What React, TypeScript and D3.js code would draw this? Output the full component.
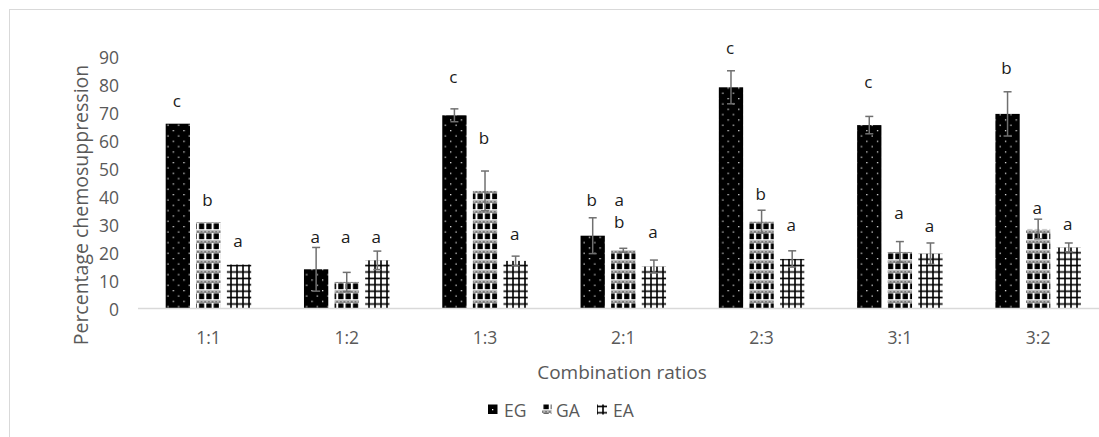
import React from "react";
import * as d3 from "d3";

const categories = ["1:1", "1:2", "1:3", "2:1", "2:3", "3:1", "3:2"];
const seriesNames = ["EG", "GA", "EA"];
const egValues = [66, 14, 69, 26, 79, 65.5, 69.5];
const gaValues = [30.8, 9.5, 42, 20.8, 31, 20.2, 28.4];
const eaValues = [15.7, 17.2, 17, 15, 17.7, 19.6, 21.8];
const egErrors = [0, 7.8, 2.3, 6.4, 5.9, 3.1, 7.9];
const gaErrors = [0, 3.4, 7.1, 0.7, 4.1, 3.7, 3.5];
const eaErrors = [0, 3.3, 1.7, 2.3, 2.9, 3.8, 1.6];
const egLetters = ["c", "a", "c", "b", "c", "c", "b"];
const gaLetters = ["b", "a", "b", "a b", "b", "a", "a"];
const eaLetters = ["a", "a", "a", "a", "a", "a", "a"];
const egLetterPos = [74.4, 25.7, 82.7, 39.1, 93.3, 81.2, 85.9];
const gaLetterPos = [39.1, 25.7, 61.1, 39.1, 41.2, 34.3, 36.2];
const eaLetterPos = [24.3, 25.7, 26.7, 27.6, 29.9, 29.5, 30.5];
const yTicks = [0, 10, 20, 30, 40, 50, 60, 70, 80, 90];
const yTitle = "Percentage chemosuppression";
const xTitle = "Combination ratios";

const FONT = "'Open Sans', 'Noto Sans', sans-serif";
const GRAY = "#595959";

export default function App() {
  const W = 1099;
  const H = 437;
  const x0 = d3.scaleBand<string>().domain(categories).range([139.3, 1107.3]).paddingInner(0).paddingOuter(0);
  const x1 = d3.scaleBand<string>().domain(seriesNames).range([-42.75, 42.75]).paddingInner(0.206).paddingOuter(0);
  const y = d3.scaleLinear().domain([0, 90]).range([308.5, 56.5]);

  const series = [
    { name: "EG", values: egValues, errors: egErrors, letters: egLetters, pos: egLetterPos, fill: "url(#pEG)" },
    { name: "GA", values: gaValues, errors: gaErrors, letters: gaLetters, pos: gaLetterPos, fill: "url(#pGA)" },
    { name: "EA", values: eaValues, errors: eaErrors, letters: eaLetters, pos: eaLetterPos, fill: "url(#pEA)" },
  ];

  const bw = x1.bandwidth();

  return (
    <svg width={W} height={H} style={{ position: "absolute", left: 0, top: 0, background: "#fff" }}>
      <defs>
        <pattern id="pEG" patternUnits="userSpaceOnUse" width={10.67} height={10.67}>
          <rect width={10.67} height={10.67} fill="#000" />
          <rect x={2} y={2} width={1.2} height={1.2} fill="#fff" />
          <rect x={7.33} y={7.33} width={1.2} height={1.2} fill="#fff" />
        </pattern>
        <pattern id="pGA" patternUnits="userSpaceOnUse" width={7.33} height={10}>
          <rect width={7.33} height={10} fill="#fff" />
          <rect x={0} y={0.5} width={7.33} height={2.4} fill="#7a7a7a" />
          <rect x={1.2} y={1.1} width={1.2} height={1.2} fill="#e0e0e0" />
          <rect x={4.8} y={1.1} width={1.2} height={1.2} fill="#e0e0e0" />
          <rect x={1.1} y={3.4} width={5.2} height={5.8} fill="#000" />
        </pattern>
        <pattern id="pEA" patternUnits="userSpaceOnUse" width={6} height={6.4}>
          <rect width={6} height={6.4} fill="#fff" />
          <rect x={2.2} y={0} width={1.6} height={6.4} fill="#000" />
          <rect x={0} y={2.4} width={6} height={1.6} fill="#000" />
        </pattern>
      </defs>

      <rect x={9.5} y={9.5} width={1100} height={440} fill="none" stroke="#d9d9d9" strokeWidth={1} />

      {yTicks.map((t) => (
        <text key={t} x={119} y={y(t)} textAnchor="end" dominantBaseline="central" fontFamily={FONT} fontSize={17.5} fill={GRAY}>
          {t}
        </text>
      ))}

      <text
        transform={`translate(80,${205}) rotate(-90)`}
        textAnchor="middle"
        dominantBaseline="central"
        fontFamily={FONT}
        fontSize={19.5}
        fill={GRAY}
      >
        {yTitle}
      </text>

      {series.map((s) => (
        <g key={s.name}>
          {categories.map((c, i) => {
            const cx = (x0(c) as number) + x0.bandwidth() / 2 + (x1(s.name) as number);
            return (
              <rect key={c} x={cx} y={y(s.values[i])} width={bw} height={y(0) - y(s.values[i])} fill={s.fill} />
            );
          })}
        </g>
      ))}

      {series.map((s) => (
        <g key={s.name + "e"} stroke="#707070" strokeWidth={1.5} fill="none">
          {categories.map((c, i) => {
            if (!s.errors[i]) return null;
            const mx = (x0(c) as number) + x0.bandwidth() / 2 + (x1(s.name) as number) + bw / 2;
            const hi = y(s.values[i] + s.errors[i]);
            const lo = y(s.values[i] - s.errors[i]);
            return (
              <g key={c}>
                <line x1={mx} x2={mx} y1={hi} y2={lo} />
                <line x1={mx - 4} x2={mx + 4} y1={hi} y2={hi} />
                <line x1={mx - 4} x2={mx + 4} y1={lo} y2={lo} />
              </g>
            );
          })}
        </g>
      ))}

      <line x1={138} x2={1110} y1={y(0)} y2={y(0)} stroke="#d9d9d9" strokeWidth={1.5} />

      {series.map((s) => (
        <g key={s.name + "l"}>
          {categories.map((c, i) => {
            const mx = (x0(c) as number) + x0.bandwidth() / 2 + (x1(s.name) as number) + bw / 2;
            const parts = s.letters[i].split(" ");
            return parts.map((p, k) => (
              <text
                key={c + k}
                x={mx - (parts.length > 1 ? 4 : 1)}
                y={y(s.pos[i]) + k * 22}
                textAnchor="middle"
                dominantBaseline="central"
                fontFamily={FONT}
                fontSize={17}
                fill="#1a1a1a"
              >
                {p}
              </text>
            ));
          })}
        </g>
      ))}

      {categories.map((c) => (
        <text
          key={c}
          x={(x0(c) as number) + x0.bandwidth() / 2}
          y={336.5}
          textAnchor="middle"
          dominantBaseline="central"
          fontFamily={FONT}
          fontSize={17.5}
          fill={GRAY}
        >
          {c}
        </text>
      ))}

      <text x={622} y={372} textAnchor="middle" dominantBaseline="central" fontFamily={FONT} fontSize={19} fill={GRAY}>
        {xTitle}
      </text>

      <g fontFamily={FONT} fontSize={17.5} fill={GRAY}>
        <rect x={488} y={404.5} width={9.5} height={9.5} fill="#000" />
        <rect x={492} y={409} width={1.3} height={1.3} fill="#fff" />
        <text x={504} y={409.5} dominantBaseline="central">EG</text>
        <rect x={542} y={404.5} width={9.5} height={9.5} fill="url(#pGA)" />
        <text x={556} y={409.5} dominantBaseline="central">GA</text>
        <rect x={597} y={404.5} width={10} height={10} fill="url(#pEA)" />
        <text x={613} y={409.5} dominantBaseline="central">EA</text>
      </g>
    </svg>
  );
}
